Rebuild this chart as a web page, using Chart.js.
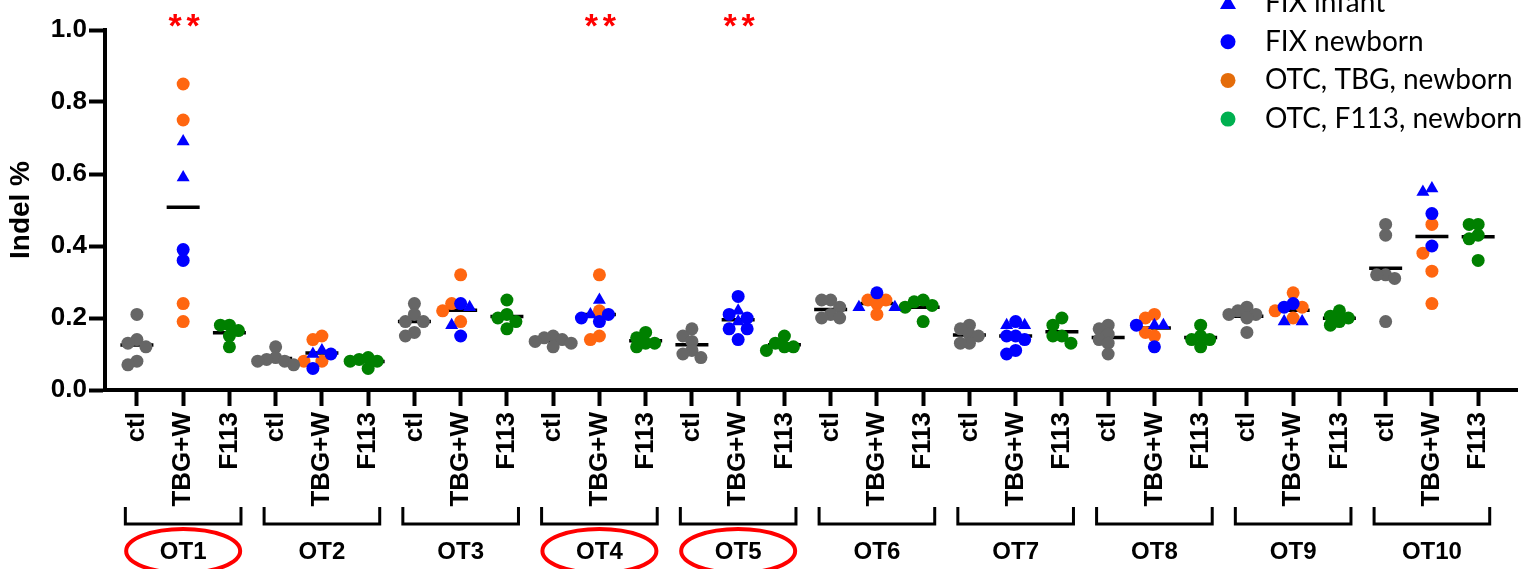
<!DOCTYPE html>
<html>
<head>
<meta charset="utf-8">
<script src="https://cdn.jsdelivr.net/npm/chart.js@4.4.1/dist/chart.umd.min.js"></script>
<style>
  html, body { margin: 0; padding: 0; background: #fff; }
  #wrap { width: 1537px; height: 569px; position: relative; }
</style>
</head>
<body>
<div id="wrap"><canvas id="indelChart"></canvas></div>
<script>
// --- data ---
const targets = ['OT1', 'OT2', 'OT3', 'OT4', 'OT5', 'OT6', 'OT7', 'OT8', 'OT9', 'OT10'];
const conditions = ['ctl', 'TBG+W', 'F113'];
const yTickValues = [0, 0.2, 0.4, 0.6, 0.8, 1.0];
const starredTargets = ['OT1', 'OT4', 'OT5'];

// ctl column (grey)
const ctlValues = [
    [0.21, 0.14, 0.13, 0.12, 0.08, 0.07],
    [0.12, 0.09, 0.085, 0.08, 0.08, 0.07],
    [0.24, 0.21, 0.19, 0.19, 0.16, 0.15],
    [0.15, 0.145, 0.14, 0.135, 0.13, 0.12],
    [0.17, 0.15, 0.135, 0.11, 0.10, 0.09],
    [0.25, 0.25, 0.23, 0.21, 0.20, 0.20],
    [0.18, 0.17, 0.155, 0.15, 0.13, 0.13],
    [0.18, 0.17, 0.155, 0.14, 0.13, 0.10],
    [0.23, 0.22, 0.21, 0.21, 0.20, 0.16],
    [0.46, 0.43, 0.32, 0.32, 0.31, 0.19]
];
// TBG+W column
const fixInfantValues = [
    [0.69, 0.59], [0.11, 0.10], [0.23, 0.18], [0.25, 0.21], [0.22, 0.19],
    [0.23, 0.23], [0.18, 0.18], [0.18, 0.18], [0.19, 0.19], [0.55, 0.56]
];
const fixNewbornValues = [
    [0.39, 0.36], [0.10, 0.06], [0.24, 0.15], [0.21, 0.20, 0.19],
    [0.26, 0.21, 0.20, 0.17, 0.17, 0.14], [0.27],
    [0.19, 0.15, 0.15, 0.14, 0.11, 0.10], [0.18, 0.12], [0.24, 0.23], [0.49, 0.40]
];
const otcTbgValues = [
    [0.85, 0.75, 0.24, 0.19], [0.15, 0.14, 0.08, 0.08], [0.32, 0.24, 0.22, 0.19],
    [0.32, 0.22, 0.15, 0.14], [], [0.25, 0.25, 0.24, 0.21], [],
    [0.21, 0.20, 0.16, 0.15], [0.27, 0.23, 0.22, 0.20], [0.46, 0.38, 0.33, 0.24]
];
// F113 column
const otcF113Values = [
    [0.18, 0.18, 0.165, 0.15, 0.12],
    [0.09, 0.085, 0.08, 0.08, 0.06],
    [0.25, 0.21, 0.20, 0.19, 0.17],
    [0.16, 0.145, 0.13, 0.13, 0.12],
    [0.15, 0.13, 0.12, 0.12, 0.11],
    [0.25, 0.245, 0.235, 0.23, 0.19],
    [0.20, 0.18, 0.15, 0.15, 0.13],
    [0.18, 0.15, 0.14, 0.14, 0.12],
    [0.22, 0.205, 0.20, 0.19, 0.18],
    [0.46, 0.46, 0.43, 0.42, 0.36]
];

// series look + which column of a target they go in
const series = [
    { label: 'ctl', values: ctlValues, column: 0, color: '#666666', style: 'circle', radius: 6.5, legend: null },
    { label: 'FIX infant', values: fixInfantValues, column: 1, color: '#0000ff', style: 'triangle', radius: 7.5, legend: '#0000ff' },
    { label: 'FIX newborn', values: fixNewbornValues, column: 1, color: '#0000ff', style: 'circle', radius: 6.5, legend: '#0000ff' },
    { label: 'OTC, TBG, newborn', values: otcTbgValues, column: 1, color: '#ff6610', style: 'circle', radius: 6.5, legend: '#e46c0a' },
    { label: 'OTC, F113, newborn', values: otcF113Values, column: 2, color: '#008000', style: 'circle', radius: 6.5, legend: '#00b050' }
];

const FONT = '"Liberation Sans", Arial, sans-serif';

// gather every point of a column so the swarm can spread them
const columns = [];
series.forEach((s, si) => {
    s.values.forEach((vals, t) => {
        const c = t * 3 + s.column;
        if (!columns[c]) columns[c] = [];
        vals.forEach(v => columns[c].push({ si: si, v: v, dx: 0 }));
    });
});

function swarm(points, pxY) {
    const STEP = 4.5, D = 8.5;
    const placed = [];
    points.slice().sort((a, b) => b.v - a.v).forEach(p => {
        const py = p.v * pxY;
        for (let k = 0; k < 60; k++) {
            const off = (k % 2 ? -1 : 1) * Math.ceil(k / 2) * STEP;
            if (placed.every(q => (q.dx - off) ** 2 + (q.py - py) ** 2 >= D * D)) {
                p.dx = off; p.py = py; placed.push(p);
                break;
            }
        }
    });
}

const decorations = {
    id: 'decorations',
    afterDraw(chart) {
        const ctx = chart.ctx;
        const xs = chart.scales.x;
        ctx.save();
        ctx.strokeStyle = '#000';
        ctx.fillStyle = '#000';
        ctx.lineWidth = 3;
        ctx.textAlign = 'center';
        targets.forEach((name, t) => {
            const x0 = xs.getPixelForValue(t * 3 - 0.25);
            const x1 = xs.getPixelForValue(t * 3 + 2.25);
            const xm = xs.getPixelForValue(t * 3 + 1);
            ctx.beginPath();
            ctx.moveTo(x0, 507); ctx.lineTo(x0, 524); ctx.lineTo(x1, 524); ctx.lineTo(x1, 507);
            ctx.stroke();
            ctx.font = 'bold 24px ' + FONT;
            ctx.textBaseline = 'middle';
            ctx.fillStyle = '#000';
            ctx.fillText(name, xm, 552);
            if (starredTargets.includes(name)) {
                ctx.save();
                ctx.strokeStyle = '#ff0000';
                ctx.lineWidth = 4;
                ctx.beginPath();
                ctx.ellipse(xm, 551, 57, 22, 0, 0, Math.PI * 2);
                ctx.stroke();
                ctx.fillStyle = '#ff0000';
                ctx.font = 'bold 34px ' + FONT;
                ctx.textBaseline = 'alphabetic';
                ctx.fillText('*', xm - 8, 37);
                ctx.fillText('*', xm + 10, 37);
                ctx.restore();
            }
        });
        // legend (top right, first row cut by the top edge)
        ctx.textAlign = 'left';
        ctx.textBaseline = 'middle';
        ctx.font = '28px Lato, "Open Sans", sans-serif';
        let row = 0;
        series.forEach(s => {
            if (!s.legend) return;
            const y = 3 + row * 38.7;
            ctx.fillStyle = s.legend;
            ctx.beginPath();
            if (s.style === 'triangle') {
                ctx.moveTo(1228, y - 8); ctx.lineTo(1236, y + 6); ctx.lineTo(1220, y + 6); ctx.closePath();
            } else {
                ctx.arc(1228, y, 7.5, 0, Math.PI * 2);
            }
            ctx.fill();
            ctx.fillStyle = '#000';
            ctx.fillText(s.label, 1265, y);
            row++;
        });
        ctx.restore();
    }
};

const datasets = series.map(s => ({
    label: s.label,
    data: [],
    pointStyle: s.style,
    pointRadius: s.radius,
    pointHoverRadius: s.radius,
    backgroundColor: s.color,
    borderColor: s.color,
    borderWidth: 0
}));
datasets.push({
    label: 'mean',
    data: columns.map((pts, c) => ({ x: c, y: pts.reduce((a, p) => a + p.v, 0) / pts.length })),
    pointStyle: 'line',
    pointRadius: 16.5,
    pointHoverRadius: 16.5,
    borderColor: '#000',
    borderWidth: 3.5
});

const chart = new Chart(document.getElementById('indelChart'), {
    type: 'scatter',
    data: { datasets: datasets },
    options: {
        responsive: true,
        maintainAspectRatio: false,
        animation: false,
        layout: { padding: { top: 30, right: 17, left: 0, bottom: 0 } },
        plugins: { legend: { display: false }, tooltip: { enabled: false } },
        scales: {
            x: {
                type: 'linear',
                min: -0.69,
                max: 29.84,
                afterFit: s => { s.height = 179; },
                afterBuildTicks: s => { s.ticks = columns.map((p, i) => ({ value: i })); },
                border: { display: true, width: 4, color: '#000' },
                grid: { drawOnChartArea: false, drawTicks: true, tickLength: 16, tickWidth: 4, tickColor: '#000' },
                ticks: {
                    autoSkip: false,
                    minRotation: 90,
                    maxRotation: 90,
                    padding: 6,
                    color: '#000',
                    font: { family: FONT, size: 26, weight: 'bold' },
                    callback: v => conditions[v % 3]
                }
            },
            y: {
                min: 0,
                max: 1,
                afterFit: s => { s.width = 105; },
                afterBuildTicks: s => { s.ticks = yTickValues.map(v => ({ value: v })); },
                border: { display: true, width: 4, color: '#000' },
                grid: { drawOnChartArea: false, drawTicks: true, tickLength: 16, tickWidth: 4, tickColor: '#000' },
                ticks: {
                    padding: 2,
                    color: '#000',
                    font: { family: FONT, size: 26, weight: 'bold' },
                    callback: v => v.toFixed(1)
                },
                title: {
                    display: true,
                    text: 'Indel %',
                    color: '#000',
                    padding: { top: 4, bottom: 0 },
                    font: { family: FONT, size: 28, weight: 'bold' }
                }
            }
        }
    },
    plugins: [decorations]
});

// spread the dots of each column (beeswarm) now that the scale sizes are known
const pxX = chart.scales.x.getPixelForValue(1) - chart.scales.x.getPixelForValue(0);
const pxY = chart.scales.y.getPixelForValue(0) - chart.scales.y.getPixelForValue(1);
columns.forEach((pts, c) => {
    swarm(pts, pxY);
    pts.forEach(p => chart.data.datasets[p.si].data.push({ x: c + p.dx / pxX, y: p.v }));
});
chart.update('none');
</script>
</body>
</html>
